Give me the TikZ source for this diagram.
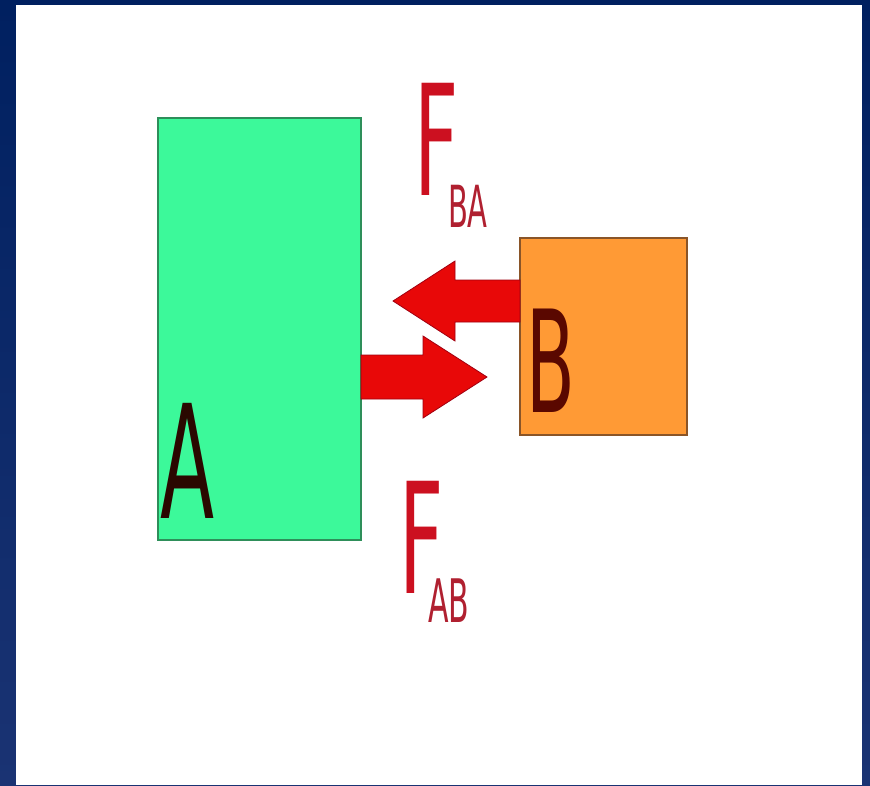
\documentclass[tikz,border=0pt]{standalone}
\usepackage{fontspec}
\setmainfont{DejaVu Sans}
\usetikzlibrary{calc}
\definecolor{bgtop}{HTML}{002060}
\definecolor{bgbot}{HTML}{1A3373}
\definecolor{boxgreen}{HTML}{3CF99A}
\definecolor{edgegreen}{HTML}{2E8F5A}
\definecolor{boxorange}{HTML}{FF9A35}
\definecolor{edgeorange}{HTML}{8A5528}
\definecolor{arrowred}{HTML}{E80808}
\definecolor{arrowedge}{HTML}{A00010}
\definecolor{forcered}{HTML}{CC1020}
\definecolor{subred}{HTML}{B02030}
\definecolor{letterA}{HTML}{2A0800}
\definecolor{letterB}{HTML}{5A0800}
\tikzset{
  bodybox/.style={draw, line width=2pt, inner sep=0pt, outer sep=0pt},
  forcearrow/.style={fill=arrowred, draw=arrowedge, line width=0.8pt, line join=miter},
  bigletter/.style={inner sep=0pt, outer sep=0pt, anchor=base west, xscale=0.5},
  subletter/.style={inner sep=0pt, outer sep=0pt, anchor=base west, xscale=0.5, text=subred},
}
\begin{document}
\begin{tikzpicture}[x=1pt,y=-1pt]
\useasboundingbox (0,0) rectangle (870,785);
% background
\shade[top color=bgtop, bottom color=bgbot] (0,0) rectangle (870,785);
\fill[white] (16,5) rectangle (862,785);
% bodies
\node[bodybox, draw=edgegreen, fill=boxgreen, minimum width=203pt, minimum height=422pt] (A) at (259.5,329) {};
\node[bodybox, draw=edgeorange, fill=boxorange, minimum width=167pt, minimum height=197pt] (B) at (603.5,336.5) {};
% letters
\node[bigletter, text=letterA, font=\fontsize{158}{158}\selectfont] (lA) at (160,518) {A};
\node[bigletter, text=letterB, font=\fontsize{142}{142}\selectfont] (lB) at (526,412) {B};
% force labels
\node[bigletter, text=forcered, font=\fontsize{154}{154}\selectfont] (FBA) at (414,195) {F};
\node[subletter, font=\fontsize{58}{58}\selectfont] (sBA) at (448,227) {BA};
\node[bigletter, text=forcered, font=\fontsize{154}{154}\selectfont] (FAB) at (399,593) {F};
\node[subletter, font=\fontsize{60}{60}\selectfont] (sAB) at (428,622) {AB};
% force F_BA: from B to the left
\coordinate (tBA) at (B.west |- 0,301);
\draw[forcearrow] ($(tBA)+(0,-21)$) -- (455,280) -- (455,261) -- (393,301) -- (455,341) -- (455,322) -- ($(tBA)+(0,21)$) -- cycle;
% force F_AB: from A to the right
\coordinate (tAB) at (A.east |- 0,377);
\draw[forcearrow] ($(tAB)+(0,-22)$) -- (423,355) -- (423,336) -- (487,377) -- (423,418) -- (423,399) -- ($(tAB)+(0,22)$) -- cycle;
\end{tikzpicture}
\end{document}
